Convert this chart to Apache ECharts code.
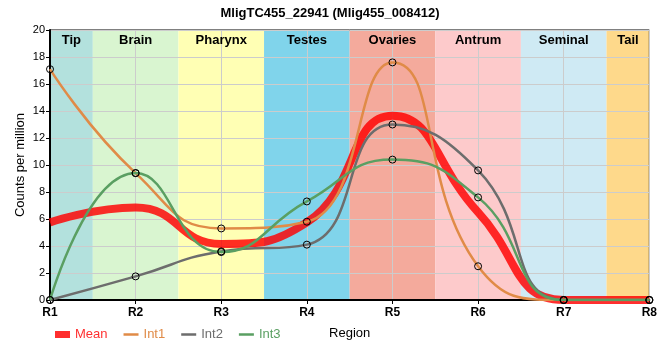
<!DOCTYPE html>
<html><head><meta charset="utf-8">
<script src="https://cdn.jsdelivr.net/npm/echarts@6/dist/echarts.min.js"></script>
<style>html,body{margin:0;padding:0;background:#fff}#c{width:660px;height:360px}</style>
</head><body><div id="c"></div>
<script>
var regions = [1, 2, 3, 4, 5, 6, 7, 8];
var bandNames = ['Tip', 'Brain', 'Pharynx', 'Testes', 'Ovaries', 'Antrum', 'Seminal', 'Tail'];
var bandColors = ['#b3e1dd', '#d9f5d0', '#ffffb4', '#80d4eb', '#f4aa9c', '#fdcacb', '#cfeaf4', '#fed98b'];
var meanVals = [5.75, 6.85, 4.15, 5.75, 13.65, 6.5, 0, 0];
var int1Vals = [17.1, 9.4, 5.3, 5.8, 17.6, 2.5, 0, 0];
var int2Vals = [0, 1.75, 3.6, 4.1, 13.0, 9.6, 0, 0];
var int3Vals = [0, 9.4, 3.55, 7.3, 10.4, 7.6, 0, 0];
var seriesNames = ['Mean', 'Int1', 'Int2', 'Int3'];
var seriesColors = ['rgba(255,0,0,0.82)', '#e08b47', '#6d6d6d', '#5a9f62'];
var yTicks = {min: 0, max: 20, step: 2};

function pairs(vals) { return regions.map(function (r, i) { return [r, vals[i]]; }); }

var chart = echarts.init(document.getElementById('c'), null, {renderer: 'canvas'});
var bandData = bandNames.map(function (n, i) { return [regions[i], n, bandColors[i]]; });

function bandBox(api) {
  var c = api.value(0);
  var x0 = Math.max(regions[0], c - 0.5), x1 = Math.min(regions[regions.length - 1], c + 0.5);
  return [api.coord([x0, yTicks.max]), api.coord([x1, yTicks.min])];
}

function lineSeries(name, vals, color, width, showSym) {
  return {
    name: name, type: 'line', data: pairs(vals), smooth: true,
    color: color,
    lineStyle: {color: color, width: width},
    showSymbol: showSym, symbol: 'circle', symbolSize: 7,
    itemStyle: {color: 'rgba(0,0,0,0)', borderColor: '#000', borderWidth: 1},
    emphasis: {disabled: true}, z: 3, animation: false
  };
}

var option = {
  animation: false,
  title: {
    text: 'MligTC455_22941 (Mlig455_008412)', left: 'center', top: 2,
    textStyle: {fontFamily: 'Liberation Sans, Arial', fontSize: 13, fontWeight: 'bold', color: '#000'}
  },
  grid: {left: 50, right: 9, top: 30, bottom: 60, show: true, borderColor: '#000', borderWidth: 1, backgroundColor: 'transparent'},
  legend: {
    left: 50, top: 323, itemWidth: 15, itemHeight: 7, itemGap: 16,
    textStyle: {fontFamily: 'Liberation Sans, Arial', fontSize: 13},
    data: seriesNames.map(function (n, i) {
      return {
        name: n,
        icon: i === 0 ? 'path://M0,0H15V7H0Z' : 'path://M0,0H15V2.5H0Z',
        itemStyle: {color: seriesColors[i], borderWidth: 0},
        textStyle: {color: seriesColors[i]}
      };
    })
  },
  xAxis: {
    type: 'value', min: 1, max: 8, interval: 1,
    name: 'Region', nameLocation: 'middle', nameGap: 27,
    nameTextStyle: {fontFamily: 'Liberation Sans, Arial', fontSize: 13, color: '#000'},
    axisLine: {show: true, lineStyle: {color: '#000', width: 2}},
    axisTick: {show: true, length: 4, lineStyle: {color: '#000'}},
    axisLabel: {formatter: function (v) { return 'R' + v; }, fontSize: 12, fontWeight: 'bold', color: '#000', margin: 7, fontFamily: 'Liberation Sans, Arial'},
    splitLine: {show: true, lineStyle: {color: '#cccccc', width: 1}}
  },
  yAxis: {
    type: 'value', min: yTicks.min, max: yTicks.max, interval: yTicks.step,
    name: 'Counts per million', nameLocation: 'middle', nameGap: 23, nameRotate: 90,
    nameMoveOverlap: false,
    nameTextStyle: {fontFamily: 'Liberation Sans, Arial', fontSize: 13, color: '#000'},
    axisLine: {show: true, lineStyle: {color: '#000', width: 2}},
    axisTick: {show: true, length: 4, lineStyle: {color: '#000'}},
    axisLabel: {fontSize: 11, color: '#000', margin: 5, fontFamily: 'Liberation Sans, Arial'},
    splitLine: {show: true, lineStyle: {color: '#cccccc', width: 1}}
  },
  series: [
    {
      type: 'custom', name: 'bands', z: -1, silent: true,
      data: bandData, encode: {x: 0},
      renderItem: function (params, api) {
        var b = bandBox(api);
        return {type: 'rect', shape: {x: b[0][0], y: b[0][1], width: b[1][0] - b[0][0], height: b[1][1] - b[0][1]},
          style: {fill: bandData[params.dataIndex][2]}};
      }
    },
    {
      type: 'custom', name: 'bandLabels', z: 1, silent: true,
      data: bandData, encode: {x: 0},
      renderItem: function (params, api) {
        var b = bandBox(api);
        return {type: 'text', x: (b[0][0] + b[1][0]) / 2, y: b[0][1] + 10,
          style: {text: bandData[params.dataIndex][1], fill: '#000', align: 'center', verticalAlign: 'middle',
            font: 'bold 13px "Liberation Sans", Arial'}};
      }
    },
    lineSeries('Mean', meanVals, seriesColors[0], 8, false),
    lineSeries('Int1', int1Vals, seriesColors[1], 2.5, true),
    lineSeries('Int2', int2Vals, seriesColors[2], 2.5, true),
    lineSeries('Int3', int3Vals, seriesColors[3], 2.5, true)
  ]
};
chart.setOption(option);
</script></body></html>
